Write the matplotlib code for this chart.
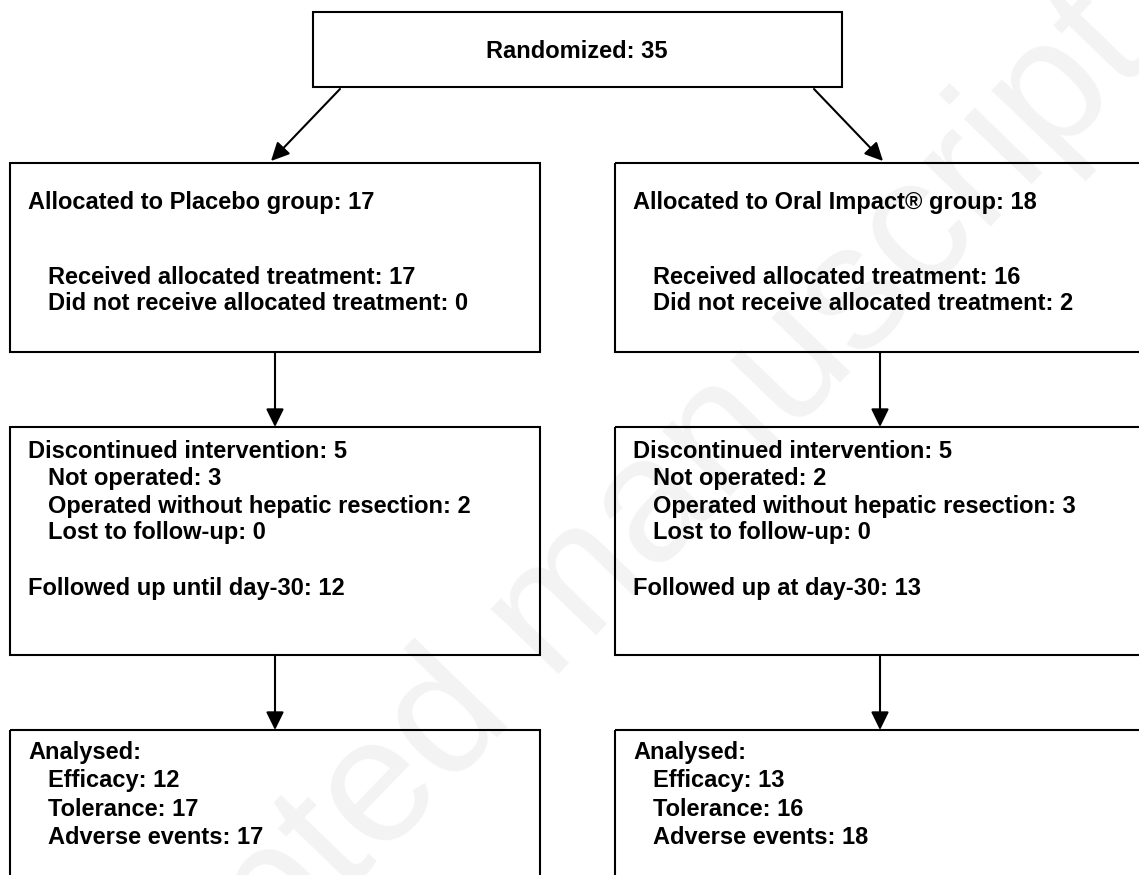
import matplotlib
matplotlib.use('Agg')
import matplotlib.pyplot as plt
from matplotlib.patches import Rectangle

# numbers from the flow diagram
randomized = 35
groups = ['Placebo', 'Oral Impact®']
allocated = [17, 18]
received = [17, 16]
not_received = [0, 2]
discontinued = [5, 5]
not_operated = [3, 2]
no_resection = [2, 3]
lost = [0, 0]
followed_label = ['Followed up until day-30', 'Followed up at day-30']
followed = [12, 13]
efficacy = [12, 13]
tolerance = [17, 16]
adverse = [17, 18]

W, H = 1139, 875
fig = plt.figure(figsize=(W / 100, H / 100), dpi=100)
ax = fig.add_axes([0, 0, 1, 1])
ax.set_xlim(0, W)
ax.set_ylim(H, 0)
ax.axis('off')

font = dict(family='Liberation Sans', fontweight='bold', fontsize=17, color='black')
lw = 1.5

# watermark
ax.text(545, 622, 'Accepted manuscript', rotation=46, ha='center', va='center',
        fontsize=128, family='Liberation Sans', color='#f3f3f3', zorder=0)


def box(x0, y0, x1, y1):
    ax.add_patch(Rectangle((x0, y0), x1 - x0, y1 - y0, fill=False,
                           edgecolor='black', linewidth=lw, zorder=2))


def arrow(x0, y0, x1, y1):
    ax.annotate('', xy=(x1, y1), xytext=(x0, y0),
                arrowprops=dict(arrowstyle='-|>,head_length=0.55,head_width=0.27',
                                color='black', lw=lw, shrinkA=0, shrinkB=0,
                                mutation_scale=20), zorder=3)


# top box
box(313, 12, 842, 87)
ax.text(577, 52, f'Randomized: {randomized}', ha='center', va='center', **font)
arrow(340, 89, 271, 161)
arrow(814, 89, 883, 161)

lefts = [10, 615]
rights = [540, 1145]
rows = [(163, 352), (427, 655), (730, 900)]

for i in range(2):
    x0, x1 = lefts[i], rights[i]
    xc = (x0 + x1) / 2
    for (ya, yb) in rows:
        box(x0, ya, x1, yb)
    arrow(xc, rows[0][1], xc, rows[1][0])
    arrow(xc, rows[1][1], xc, rows[2][0])

    hx = x0 + 18
    ix = x0 + 38
    ax.text(hx, 202, f'Allocated to {groups[i]} group: {allocated[i]}', va='center', **font)
    ax.text(ix, 277, f'Received allocated treatment: {received[i]}', va='center', **font)
    ax.text(ix, 304, f'Did not receive allocated treatment: {not_received[i]}', va='center', **font)

    ax.text(hx, 452, f'Discontinued intervention: {discontinued[i]}', va='center', **font)
    ax.text(ix, 479, f'Not operated: {not_operated[i]}', va='center', **font)
    ax.text(ix, 506, f'Operated without hepatic resection: {no_resection[i]}', va='center', **font)
    ax.text(ix, 533, f'Lost to follow-up: {lost[i]}', va='center', **font)
    ax.text(hx, 589, f'{followed_label[i]}: {followed[i]}', va='center', **font)

    ax.text(hx, 752, 'Analysed:', va='center', **font)
    ax.text(ix, 780.5, f'Efficacy: {efficacy[i]}', va='center', **font)
    ax.text(ix, 809, f'Tolerance: {tolerance[i]}', va='center', **font)
    ax.text(ix, 837.5, f'Adverse events: {adverse[i]}', va='center', **font)

fig.savefig('out.png', dpi=100, facecolor='white')
